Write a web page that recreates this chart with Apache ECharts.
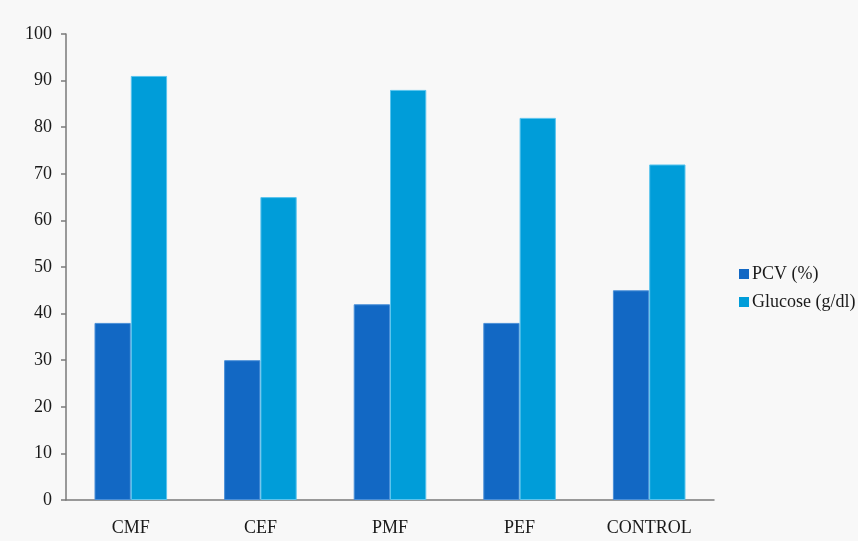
<!DOCTYPE html>
<html>
<head>
    <meta charset="utf-8" />
    <title>PCV and Glucose</title>
    <script src="https://cdn.jsdelivr.net/npm/echarts@6/dist/echarts.min.js"></script>
</head>
<style>
    html, body {
        margin: 0;
        padding: 0;
        background: #ffffff;
    }
</style>
<body>
    <div id="main" style="width: 858px;height:541px;"></div>
    <script type="text/javascript">
        var categories = ['CMF', 'CEF', 'PMF', 'PEF', 'CONTROL'];
        var pcv = [38, 30, 42, 38, 45];
        var glucose = [91, 65, 88, 82, 72];
        var seriesNames = ['PCV (%)', 'Glucose (g/dl)'];

        var myChart = echarts.init(document.getElementById('main'));
        var axisColor = '#7a7a7a';
        var font = '"Liberation Serif", "Times New Roman", serif';

        var option = {
            backgroundColor: '#f8f8f8',
            animation: false,
            textStyle: { fontFamily: font },
            grid: {
                left: 66,
                right: 144,
                top: 34,
                bottom: 41
            },
            legend: {
                orient: 'vertical',
                left: 734,
                top: 260,
                itemWidth: 10,
                itemHeight: 10,
                itemGap: 10,
                icon: 'rect',
                itemStyle: { borderWidth: 0 },
                textStyle: { fontFamily: font, fontSize: 18, color: '#1a1a1a', padding: [0, 0, 0, -2] },
                data: seriesNames
            },
            xAxis: {
                type: 'category',
                data: categories,
                axisLine: { lineStyle: { color: axisColor, width: 1.5 } },
                axisTick: { length: 5, lineStyle: { color: axisColor, width: 1.5 } },
                axisLabel: { fontFamily: font, fontSize: 18, color: '#1a1a1a', margin: 19 }
            },
            yAxis: {
                type: 'value',
                min: 0,
                max: 100,
                interval: 10,
                axisLine: { show: true, lineStyle: { color: axisColor, width: 1.5 } },
                axisTick: { show: true, length: 5, lineStyle: { color: axisColor, width: 1.5 } },
                axisLabel: { fontFamily: font, fontSize: 18, color: '#1a1a1a', margin: 14 },
                splitLine: { show: false }
            },
            series: [{
                name: seriesNames[0],
                type: 'bar',
                data: pcv,
                barGap: '0%',
                barCategoryGap: '44%',
                itemStyle: { color: '#1268C4', borderColor: '#4a8fd8', borderWidth: 1 }
            }, {
                name: seriesNames[1],
                type: 'bar',
                data: glucose,
                itemStyle: { color: '#009DD9', borderColor: '#5ac4ee', borderWidth: 1 }
            }]
        };

        myChart.setOption(option);
    </script>
</body>
</html>
